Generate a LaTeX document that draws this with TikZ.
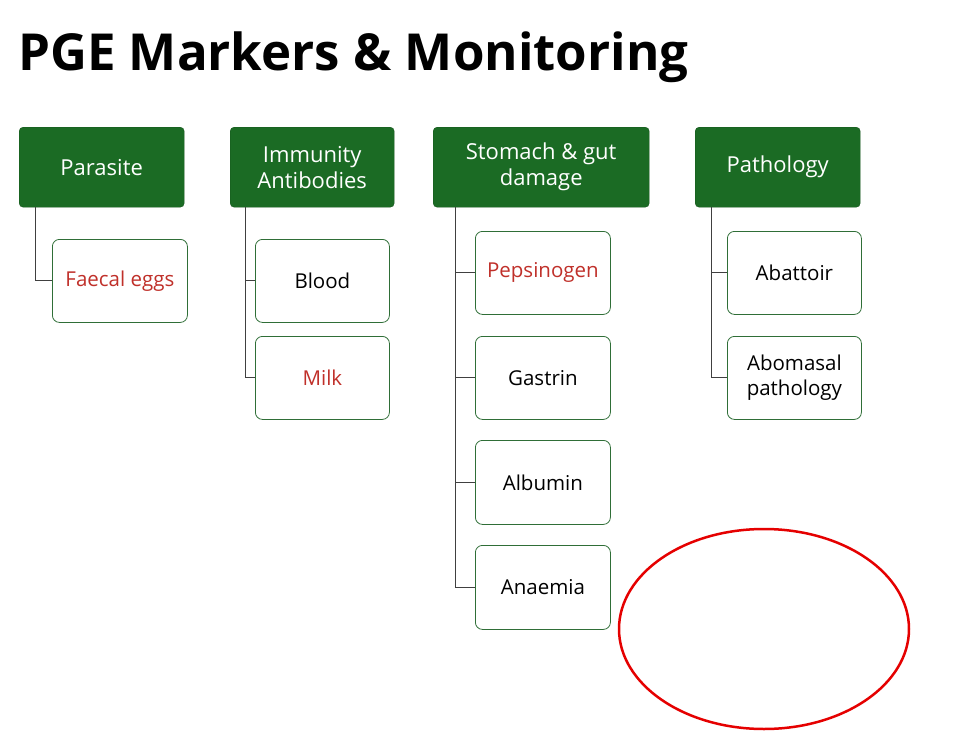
\documentclass[tikz,border=0pt]{standalone}
\usepackage{fontspec}
\usetikzlibrary{shapes.geometric}
\setmainfont{Open Sans}
\definecolor{hdr}{HTML}{1B6B24}
\definecolor{bord}{HTML}{2F6E37}
\definecolor{redt}{HTML}{C0302A}
\begin{document}
\begin{tikzpicture}[x=1pt,y=-1pt,
  head/.style={draw=hdr!80!black,fill=hdr,rounded corners=4pt,text=white,align=center,font=\fontsize{22}{26}\selectfont,anchor=north west,inner sep=0pt},
  leaf/.style={draw=bord,thick,fill=white,rounded corners=7pt,align=center,font=\fontsize{20.5}{25}\selectfont,anchor=north west,inner sep=0pt},
  conn/.style={draw=black!75,line width=1pt}]
\useasboundingbox (0,0) rectangle (962,736);
\node[anchor=base west,font=\fontsize{51}{58}\selectfont\bfseries,inner sep=0pt] (title) at (18,70) {PGE Markers \& Monitoring};
\node[head,minimum width=165,minimum height=80] (h1) at (19,127) {Parasite};
\node[head,minimum width=164,minimum height=80] (h2) at (230,127) {Immunity\\Antibodies};
\node[head,minimum width=216,minimum height=80] (h3) at (433,127) {Stomach \& gut\\damage};
\node[head,minimum width=165,minimum height=80] (h4) at (695,127) {Pathology};
\node[leaf,minimum width=135,minimum height=83,text=redt] (a1) at (52,239) {Faecal eggs};
\node[leaf,minimum width=134,minimum height=83] (b1) at (255,239) {Blood};
\node[leaf,minimum width=134,minimum height=83,text=redt] (b2) at (255,336) {Milk};
\node[leaf,minimum width=135,minimum height=83,text=redt] (c1) at (475,231) {Pepsinogen};
\node[leaf,minimum width=135,minimum height=83] (c2) at (475,336) {Gastrin};
\node[leaf,minimum width=135,minimum height=84] (c3) at (475,440) {Albumin};
\node[leaf,minimum width=135,minimum height=84] (c4) at (475,545) {Anaemia};
\node[leaf,minimum width=134,minimum height=83] (d1) at (727,231) {Abattoir};
\node[leaf,minimum width=134,minimum height=83] (d2) at (727,336) {Abomasal\\pathology};
\coordinate (x1) at (35,207);\coordinate (x2) at (245,207);\coordinate (x3) at (455,207);\coordinate (x4) at (711,207);
\draw[conn] (x1) |- (a1.west);
\draw[conn] (x2) |- (b1.west); \draw[conn] (x2) |- (b2.west);
\draw[conn] (x3) |- (c1.west); \draw[conn] (x3) |- (c2.west); \draw[conn] (x3) |- (c3.west); \draw[conn] (x3) |- (c4.west);
\draw[conn] (x4) |- (d1.west); \draw[conn] (x4) |- (d2.west);
\node[draw=red!90!black,line width=2.5pt,ellipse,minimum width=290,minimum height=200,inner sep=0pt] (circ) at (764,629) {};
\end{tikzpicture}
\end{document}
